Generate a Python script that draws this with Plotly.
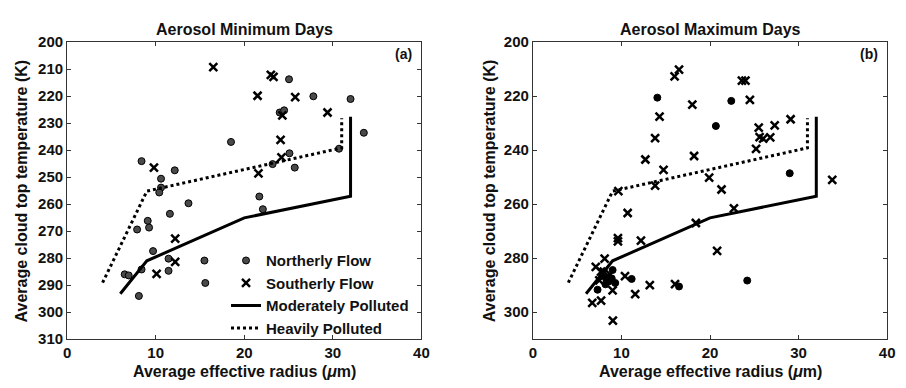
import plotly.graph_objects as go

# ---------------- data ----------------
# Aerosol Minimum Days (a)
north_min_r = [25.05, 27.8, 32.0, 24.0, 24.5, 33.5, 18.5, 30.7, 25.1, 23.2, 25.7, 8.4, 12.15, 10.6, 10.6,
               10.4, 21.7, 22.1, 13.7, 11.6, 9.1, 7.9, 9.25, 9.7, 11.45, 8.4, 11.45, 15.5, 6.5, 6.95, 8.1, 15.6]
north_min_T = [213.8, 220.1, 221.1, 226.1, 225.3, 233.6, 237.0, 239.5, 241.2, 245.2, 246.5, 244.1, 247.5, 250.6, 253.9,
               255.7, 257.2, 261.9, 259.7, 263.6, 266.2, 269.4, 268.7, 277.4, 280.2, 284.2, 284.7, 280.9, 286.0, 286.4, 294.0, 289.2]
south_min_r = [16.5, 23.0, 23.3, 21.5, 25.75, 29.4, 24.3, 24.1, 24.2, 9.8, 21.6, 12.2, 12.2, 10.1]
south_min_T = [209.3, 212.2, 212.9, 219.9, 220.4, 226.1, 227.2, 236.2, 242.7, 246.5, 248.6, 272.8, 281.4, 285.8]

# Aerosol Maximum Days (b)
north_max_r = [14.05, 22.4, 20.66, 29.0, 11.15, 16.5, 24.2, 7.3, 9.0, 8.2, 8.6, 8.9, 7.9, 9.3]
north_max_T = [220.6, 221.8, 231.1, 248.6, 287.7, 290.5, 288.3, 291.7, 284.4, 289.7, 288.6, 287.5, 286.6, 289.2]
south_max_r = [16.5, 16.0, 23.6, 24.0, 24.5, 18.0, 14.3, 29.1, 27.3, 25.5, 25.6, 26.0, 26.8, 13.8, 25.2, 18.2,
               12.7, 14.75, 19.9, 13.8, 21.3, 9.65, 10.7, 22.7, 18.4, 9.6, 9.6, 12.2, 20.8, 8.1, 7.1, 7.7, 8.0,
               10.4, 13.2, 16.05, 9.0, 11.55, 7.7, 6.7, 9.03, 33.8, 8.4, 7.5, 8.7]
south_max_T = [210.2, 212.7, 214.3, 214.3, 221.4, 223.2, 227.6, 228.6, 230.9, 231.7, 235.2, 235.8, 235.3, 235.6, 239.6, 242.2,
               243.5, 247.3, 250.2, 253.2, 254.6, 255.2, 263.3, 261.6, 267.0, 272.6, 273.8, 273.5, 277.3, 280.2, 283.2, 285.0, 285.0,
               286.7, 290.0, 289.6, 291.9, 293.3, 295.7, 296.6, 303.1, 251.0, 287.0, 288.2, 286.0]

# Reference curves
mod_r = [6.0, 9.0, 20.0, 32.0, 32.0]
mod_T = [293.2, 281.0, 265.1, 257.1, 227.7]
heavy_r = [4.0, 9.0, 31.0, 31.0]
heavy_T = [289.1, 255.2, 239.2, 228.2]

titles = ["Aerosol Minimum Days", "Aerosol Maximum Days"]
panel_tags = ["(a)", "(b)"]
xlabel = "Average effective radius (<i>\u03bc</i>m)"
ylabel = "Average cloud top temperature (K)"

# ---------------- figure ----------------
W, H = 906, 388
FONT = "Liberation Sans, Arial, Helvetica, sans-serif"

fig = go.Figure()

circ_left = dict(symbol="circle", size=7, color="#4a4a4a", line=dict(color="black", width=1))
circ_right = dict(symbol="circle", size=7, color="black", line=dict(color="black", width=1))
cross = dict(symbol="x-thin-open", size=8, color="black", line=dict(color="black", width=2.5))

panels = [
    ("x", "y", north_min_r, north_min_T, south_min_r, south_min_T, circ_left, True),
    ("x2", "y2", north_max_r, north_max_T, south_max_r, south_max_T, circ_right, False),
]
for xa, ya, nr, nT, sr, sT, cm, show in panels:
    fig.add_trace(go.Scatter(x=nr, y=nT, mode="markers", marker=cm, name="Northerly Flow",
                             xaxis=xa, yaxis=ya, showlegend=show))
    fig.add_trace(go.Scatter(x=sr, y=sT, mode="markers", marker=cross, name="Southerly Flow",
                             xaxis=xa, yaxis=ya, showlegend=show))
    fig.add_trace(go.Scatter(x=mod_r, y=mod_T, mode="lines", line=dict(color="black", width=3),
                             name="Moderately Polluted", xaxis=xa, yaxis=ya, showlegend=show))
    fig.add_trace(go.Scatter(x=heavy_r, y=heavy_T, mode="lines", line=dict(color="black", width=3, dash="dot"),
                             name="Heavily Polluted", xaxis=xa, yaxis=ya, showlegend=show))

def px_x(p):
    return p / W

def px_y(p):
    return 1 - p / H

x1dom = [px_x(64), px_x(423)]
x2dom = [px_x(536), px_x(895)]
ydom = [px_y(345.3), px_y(34.5)]

axis_common = dict(showline=True, linecolor="#333333", linewidth=1, mirror="ticks", ticks="inside",
                   ticklen=4, tickcolor="#333333", showgrid=False, zeroline=False,
                   tickfont=dict(size=15, color="#111111", family=FONT, weight="bold"))

fig.update_layout(
    width=W, height=H,
    margin=dict(l=0, r=0, t=0, b=0),
    paper_bgcolor="white", plot_bgcolor="white",
    font=dict(family=FONT, size=15, color="#111111", weight="bold"),
    xaxis=dict(domain=x1dom, range=[0, 40], tickvals=[0, 10, 20, 30, 40], anchor="y", **axis_common),
    yaxis=dict(domain=ydom, range=[310, 200], tickvals=list(range(200, 311, 10)), anchor="x", **axis_common),
    xaxis2=dict(domain=x2dom, range=[0, 40], tickvals=[0, 10, 20, 30, 40], anchor="y2", **axis_common),
    yaxis2=dict(domain=ydom, range=[310, 200], tickvals=list(range(200, 301, 20)), anchor="x2", **axis_common),
    legend=dict(x=px_x(225), y=px_y(246), xanchor="left", yanchor="top", bgcolor="rgba(0,0,0,0)",
                borderwidth=0, tracegroupgap=0,
                font=dict(size=15, family=FONT, color="#111111", weight="bold")),
    showlegend=True,
)

ann = []
for i, (t, tag) in enumerate(zip(titles, panel_tags)):
    cx = (243.5 if i == 0 else 715.5)
    ann.append(dict(text=t, x=px_x(cx), y=px_y(21), xref="paper", yref="paper", showarrow=False,
                    xanchor="center", yanchor="middle", font=dict(size=16, family=FONT, weight="bold")))
    ann.append(dict(text=tag, x=px_x((405 if i == 0 else 877)), y=px_y(47), xref="paper", yref="paper",
                    showarrow=False, xanchor="center", yanchor="middle", font=dict(size=14, family=FONT, weight="bold")))
    ann.append(dict(text=xlabel, x=px_x(cx), y=px_y(379), xref="paper", yref="paper", showarrow=False,
                    xanchor="center", yanchor="middle", font=dict(size=16, family=FONT, weight="bold")))
    ann.append(dict(text=ylabel, x=px_x((18 if i == 0 else 492)), y=px_y(190), xref="paper", yref="paper",
                    showarrow=False, textangle=-90, xanchor="center", yanchor="middle",
                    font=dict(size=16, family=FONT, weight="bold")))
fig.update_layout(annotations=ann)

fig.write_html("out.html")
